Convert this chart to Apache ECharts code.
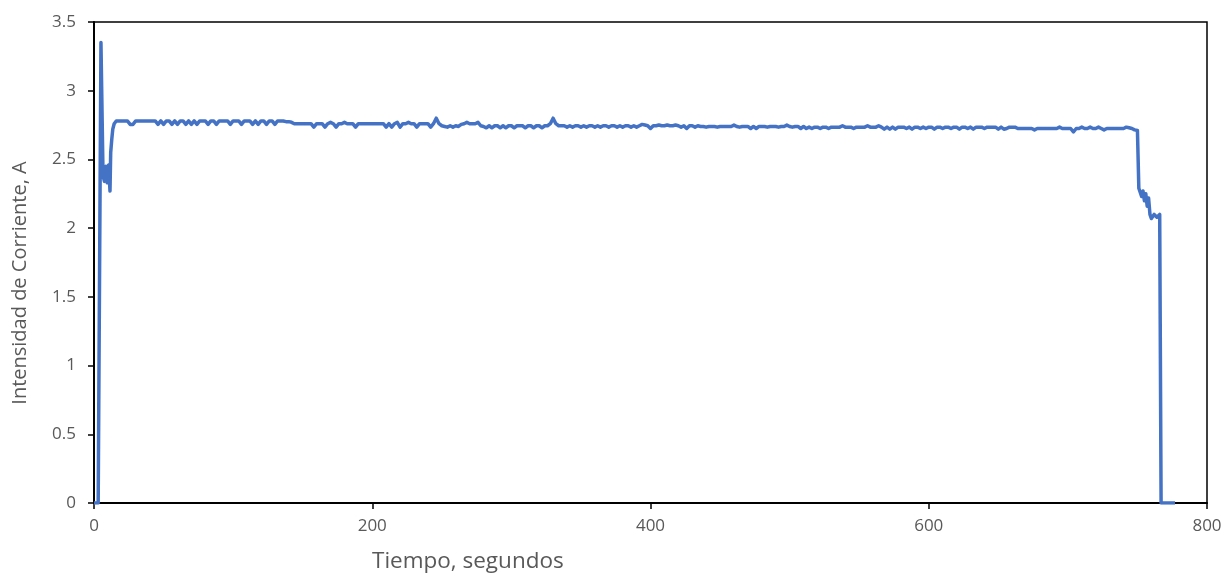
<!DOCTYPE html>
<html>
<head>
<meta charset="utf-8">
<script src="https://cdn.jsdelivr.net/npm/echarts@6/dist/echarts.min.js"></script>
<style>html,body{margin:0;padding:0;background:#fff}#c{width:1226px;height:574px}</style>
</head>
<body>
<div id="c"></div>
<script>
// Start-up transient (time in s, current in A)
var startTimes  = [0, 3, 5, 6.5, 7.5, 8.5, 9.5, 10.5, 11.5, 12, 12.8, 13.5, 14.5];
var startValues = [0, 0, 3.35, 2.38, 2.34, 2.45, 2.33, 2.46, 2.27, 2.55, 2.65, 2.72, 2.76];

// Plateau, one reading every 2 s from t = 16 s
var plateauStart = 16, plateauStep = 2;
var plateauValues = [
  2.78,2.78,2.78,2.78,2.78,2.755,2.755,2.78,2.78,2.78,
  2.78,2.78,2.78,2.78,2.78,2.755,2.78,2.755,2.78,2.78,
  2.755,2.78,2.755,2.78,2.78,2.755,2.78,2.755,2.78,2.755,
  2.78,2.78,2.78,2.755,2.78,2.78,2.755,2.78,2.78,2.78,
  2.78,2.755,2.78,2.78,2.78,2.755,2.78,2.78,2.78,2.755,
  2.78,2.755,2.78,2.78,2.755,2.78,2.78,2.755,2.78,2.78,
  2.78,2.775,2.775,2.77,2.76,2.76,2.76,2.76,2.76,2.76,
  2.76,2.735,2.76,2.76,2.76,2.735,2.76,2.77,2.76,2.735,
  2.76,2.76,2.77,2.76,2.76,2.76,2.735,2.76,2.76,2.76,
  2.76,2.76,2.76,2.76,2.76,2.76,2.76,2.735,2.76,2.735,
  2.76,2.77,2.735,2.76,2.76,2.77,2.76,2.76,2.735,2.76,
  2.76,2.76,2.76,2.735,2.76,2.80,2.76,2.745,2.74,2.735,
  2.745,2.735,2.745,2.74,2.755,2.76,2.77,2.76,2.76,2.76,
  2.77,2.745,2.74,2.73,2.745,2.73,2.745,2.745,2.73,2.745,
  2.73,2.745,2.745,2.73,2.745,2.745,2.745,2.73,2.745,2.745,
  2.73,2.745,2.745,2.73,2.745,2.745,2.76,2.80,2.76,2.745,
  2.745,2.745,2.735,2.745,2.735,2.745,2.745,2.735,2.745,2.735,
  2.745,2.745,2.735,2.745,2.735,2.745,2.745,2.735,2.745,2.745,
  2.735,2.745,2.735,2.745,2.745,2.735,2.745,2.735,2.745,2.755,
  2.75,2.745,2.725,2.745,2.745,2.75,2.745,2.745,2.75,2.745,
  2.745,2.75,2.745,2.735,2.745,2.725,2.745,2.745,2.735,2.745,
  2.74,2.74,2.735,2.74,2.74,2.74,2.735,2.74,2.74,2.74,
  2.74,2.74,2.75,2.74,2.735,2.74,2.74,2.74,2.725,2.74,
  2.725,2.74,2.74,2.74,2.735,2.74,2.74,2.74,2.735,2.74,
  2.74,2.75,2.74,2.735,2.74,2.74,2.725,2.74,2.725,2.735,
  2.725,2.735,2.735,2.725,2.735,2.735,2.725,2.735,2.735,2.735,
  2.735,2.745,2.735,2.735,2.735,2.725,2.735,2.735,2.735,2.735,
  2.745,2.735,2.735,2.735,2.745,2.735,2.72,2.735,2.72,2.735,
  2.72,2.735,2.735,2.735,2.725,2.735,2.72,2.735,2.735,2.725,
  2.735,2.725,2.735,2.735,2.72,2.735,2.735,2.725,2.735,2.735,
  2.725,2.735,2.735,2.72,2.735,2.735,2.725,2.735,2.72,2.735,
  2.735,2.735,2.725,2.735,2.735,2.735,2.735,2.72,2.735,2.72,
  2.725,2.735,2.735,2.735,2.725,2.725,2.725,2.725,2.725,2.725,
  2.715,2.725,2.725,2.725,2.725,2.725,2.725,2.725,2.725,2.735,
  2.725,2.725,2.725,2.725,2.70,2.725,2.725,2.735,2.725,2.725,
  2.735,2.725,2.725,2.735,2.725,2.715,2.725,2.725,2.725,2.725,
  2.725,2.725,2.725,2.735,2.73,2.725,2.715
];

// Shut-down transient
var endTimes  = [750, 751, 752, 753, 754, 755, 756, 757, 758, 759, 760, 762, 764, 766, 767, 777];
var endValues = [2.71, 2.29, 2.28, 2.23, 2.27, 2.20, 2.25, 2.16, 2.22, 2.10, 2.07, 2.10, 2.08, 2.10, 0, 0];

var xTicks = [0, 200, 400, 600, 800];
var yTicks = [0, 0.5, 1, 1.5, 2, 2.5, 3, 3.5];

var data = [];
startTimes.forEach(function (t, i) { data.push([t, startValues[i]]); });
plateauValues.forEach(function (v, i) { data.push([plateauStart + i * plateauStep, v]); });
endTimes.forEach(function (t, i) { data.push([t, endValues[i]]); });

var font = 'Open Sans';
var chart = echarts.init(document.getElementById('c'), null, {renderer: 'canvas'});
chart.setOption({
  animation: false,
  backgroundColor: '#fff',
  grid: {left: 94, right: 19, top: 22, bottom: 71, show: true, borderColor: '#000', borderWidth: 1.5, backgroundColor: 'transparent'},
  xAxis: {
    type: 'value', min: xTicks[0], max: xTicks[xTicks.length - 1], interval: 200,
    axisLine: {show: true, lineStyle: {color: '#000', width: 2}},
    axisTick: {show: true, inside: false, length: 6, lineStyle: {color: '#000', width: 1.5}},
    splitLine: {show: false},
    axisLabel: {color: '#595959', fontSize: 17, fontFamily: font, margin: 15}
  },
  yAxis: {
    type: 'value', min: yTicks[0], max: yTicks[yTicks.length - 1], interval: 0.5,
    axisLine: {show: true, lineStyle: {color: '#000', width: 2}},
    axisTick: {show: true, inside: false, length: 6, lineStyle: {color: '#000', width: 1.5}},
    splitLine: {show: false},
    axisLabel: {color: '#595959', fontSize: 17, fontFamily: font, margin: 18}
  },
  graphic: [{
    type: 'text', left: 372, top: 550,
    style: {text: 'Tiempo, segundos', fill: '#595959', font: '22.5px "Open Sans"'}
  }, {
    type: 'text', x: 20, y: 283, rotation: Math.PI / 2,
    style: {text: 'Intensidad de Corriente, A', fill: '#595959', font: '20px "Open Sans"', align: 'center', verticalAlign: 'middle'}
  }],
  series: [{
    type: 'line', data: data, showSymbol: false, symbol: 'none',
    lineStyle: {color: '#4472C4', width: 3.5, join: 'round'},
    clip: true
  }]
});
</script>
</body>
</html>
